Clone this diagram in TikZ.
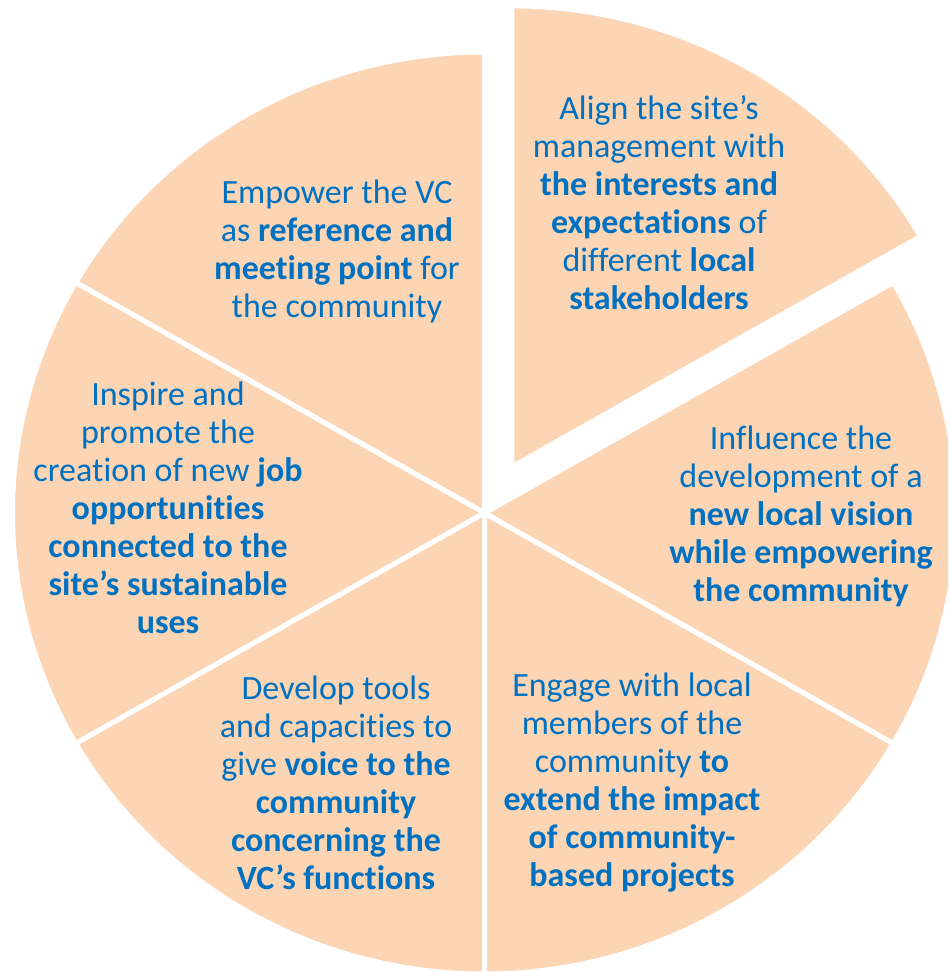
\documentclass[tikz,border=0pt]{standalone}
\usepackage{fontspec}
\setmainfont[Ligatures={NoCommon}]{Carlito}
\definecolor{slicefill}{HTML}{FCD5B5}
\definecolor{labelblue}{HTML}{0070C0}
\begin{document}
\begin{tikzpicture}[x=1pt,y=1pt,
  wedge/.style={fill=slicefill, draw=white, line width=5pt, line join=miter},
  slicetext/.style={text=labelblue, align=center, inner sep=0pt,
    font=\fontsize{34}{38}\selectfont}]
\useasboundingbox (0,0) rectangle (948,972);
\clip (0,0) rectangle (948,972);
% pie centre and the pulled-out wedge's apex
\coordinate (c) at (484.5,459);
\coordinate (ce) at (511.75,505.1);
% six wedges of 60 degrees each
\path[wedge] (c) -- ++(90:472 and 461) arc[start angle=90, end angle=150, x radius=472, y radius=461] -- cycle;
\path[wedge] (c) -- ++(150:472 and 461) arc[start angle=150, end angle=210, x radius=472, y radius=461] -- cycle;
\path[wedge] (c) -- ++(210:472 and 461) arc[start angle=210, end angle=270, x radius=472, y radius=461] -- cycle;
\path[wedge] (c) -- ++(270:472 and 461) arc[start angle=270, end angle=330, x radius=472, y radius=461] -- cycle;
\path[wedge] (c) -- ++(-30:472 and 461) arc[start angle=-30, end angle=30, x radius=472, y radius=461] -- cycle;
\path[wedge] (ce) -- ++(30:472 and 461) arc[start angle=30, end angle=90, x radius=472, y radius=461] -- cycle;
% wedge texts
\node[slicetext] (t1) at (337,721) {Empower the VC\\ as \textbf{reference and}\\ \textbf{meeting point} for\\ the community};
\node[slicetext] (t2) at (659,769) {Align the site’s\\ management with\\ \textbf{the interests and}\\ \textbf{expectations} of\\ different \textbf{local}\\ \textbf{stakeholders}};
\node[slicetext] (t3) at (168,464) {Inspire and\\ promote the\\ creation of new \textbf{job}\\ \textbf{opportunities}\\ \textbf{connected to the}\\ \textbf{site’s sustainable}\\ \textbf{uses}};
\node[slicetext] (t4) at (801,456) {Influence the\\ development of a\\ \textbf{new local vision}\\ \textbf{while empowering}\\ \textbf{the community}};
\node[slicetext] (t5) at (336,189) {Develop tools\\ and capacities to\\ give \textbf{voice to the}\\ \textbf{community}\\ \textbf{concerning the}\\ \textbf{VC’s functions}};
\node[slicetext] (t6) at (632,189) {Engage with local\\ members of the\\ community \textbf{to}\\ \textbf{extend the impact}\\ \textbf{of community-}\\ \textbf{based projects}};
\end{tikzpicture}
\end{document}
